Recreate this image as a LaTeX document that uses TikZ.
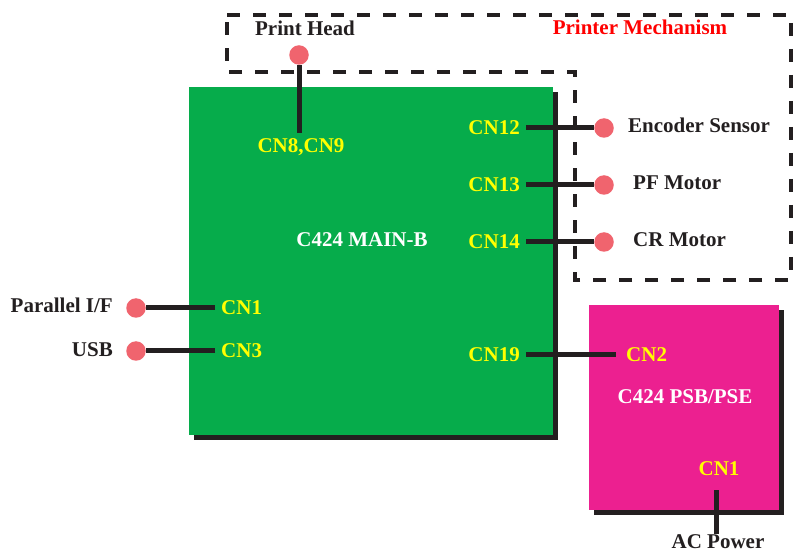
\documentclass[tikz,border=0pt]{standalone}
\usepackage{fontspec}
\setmainfont{Liberation Serif}
\usetikzlibrary{shadows}

\definecolor{boardgreen}{HTML}{06AC4B}
\definecolor{boardpink}{HTML}{EC2090}
\definecolor{pinred}{HTML}{F0646E}
\definecolor{inkblack}{HTML}{231F20}
\definecolor{cnyellow}{HTML}{FFFF00}

\begin{document}
\begin{tikzpicture}[
  x=1pt,
  y=-1pt,
  font=\fontsize{21}{25}\selectfont\bfseries,
  board/.style={rectangle,inner sep=0pt,draw=none,
    drop shadow={shadow xshift=5pt,shadow yshift=-5pt,opacity=1,fill=inkblack}},
  pin/.style={circle,fill=pinred,inner sep=0pt,minimum size=19.5pt},
  wire/.style={draw=inkblack,line width=5pt},
  cnlabel/.style={text=cnyellow,inner xsep=6pt,inner ysep=0pt},
  partlabel/.style={text=inkblack,inner sep=0pt},
  boardlabel/.style={text=white,inner sep=0pt},
  mech/.style={draw=inkblack,line width=4.5pt,dash pattern=on 13pt off 13pt}
]
  \useasboundingbox (0,0) rectangle (793,553);

  % Printer mechanism outline.
  \draw[mech] (227,15) -- (791,15) -- (791,280) -- (575,280)
    -- (575,72) -- (227,72) -- cycle;
  \node[partlabel,anchor=base,text=red] (mechname) at (640,35) {Printer Mechanism};

  % Boards.
  \node[board,fill=boardgreen,minimum width=364pt,minimum height=348pt] (mainb) at (371,261) {};
  \node[board,fill=boardpink,minimum width=190pt,minimum height=205pt] (psb) at (684,407.5) {};
  \node[boardlabel,anchor=base] (mainname) at (362,247) {C424 MAIN-B};
  \node[boardlabel,anchor=base] (psbname) at (685,404) {C424 PSB/PSE};

  % Connectors on the boards.
  \node[cnlabel,anchor=north,inner ysep=5pt] (cn89) at (301,133) {CN8,CN9};
  \node[cnlabel,anchor=east] (cn12) at (526,128) {CN12};
  \node[cnlabel,anchor=east] (cn13) at (526,185) {CN13};
  \node[cnlabel,anchor=east] (cn14) at (526,242) {CN14};
  \node[cnlabel,anchor=east] (cn19) at (526,355) {CN19};
  \node[cnlabel,anchor=west] (cn1) at (215,308) {CN1};
  \node[cnlabel,anchor=west] (cn3) at (215,351) {CN3};
  \node[cnlabel,anchor=west,inner xsep=10pt] (cn2) at (616,355) {CN2};
  \node[cnlabel,anchor=base] (cn1psb) at (719,475) {CN1};
  \coordinate (acin) at (716,490);

  % Parts and their pins.
  \node[partlabel,anchor=base] (headname) at (305,36) {Print Head};
  \node[partlabel,anchor=base west] (encname) at (628,133) {Encoder Sensor};
  \node[partlabel,anchor=base west] (pfname) at (633,190) {PF Motor};
  \node[partlabel,anchor=base west] (crname) at (633,247) {CR Motor};
  \node[partlabel,anchor=base east] (parname) at (113,313) {Parallel I/F};
  \node[partlabel,anchor=base east] (usbname) at (113,357) {USB};
  \node[partlabel,anchor=base] (acname) at (718,548) {AC Power};

  \node[pin] (headpin) at (299,55) {};
  \node[pin] (encpin) at (604,128) {};
  \node[pin] (pfpin) at (604,185) {};
  \node[pin] (crpin) at (604,242) {};
  \node[pin] (parpin) at (136,308) {};
  \node[pin] (usbpin) at (136,351) {};

  % Wires.
  \draw[wire] (headpin) -- (headpin |- cn89.north);
  \foreach \cn/\p in {cn12/encpin,cn13/pfpin,cn14/crpin} {
    \draw[wire] (\cn.east) -- (\p);
  }
  \foreach \cn/\p in {cn1/parpin,cn3/usbpin} {
    \draw[wire] (\cn.west) -- (\p);
  }
  \draw[wire] (cn19.east) -- (cn2.west);
  \draw[wire] (acin) -- (acin |- acname.north);
\end{tikzpicture}
\end{document}
